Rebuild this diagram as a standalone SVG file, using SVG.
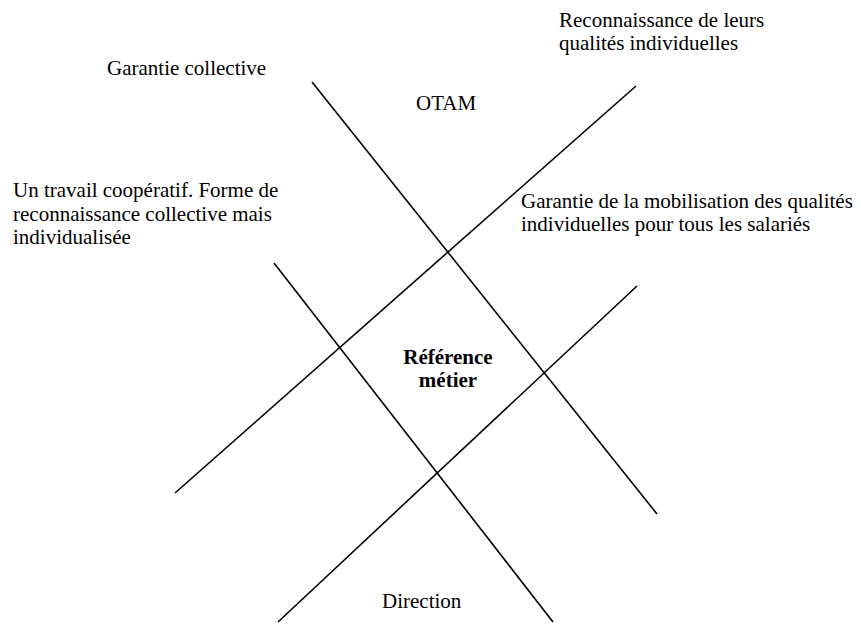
<svg xmlns="http://www.w3.org/2000/svg" width="861" height="624" viewBox="0 0 861 624">
<style>
.t{font-family:"Liberation Serif","Times New Roman",serif;font-size:21px;fill:#000}
.b{font-weight:bold;text-anchor:middle}
.l{stroke:#000;stroke-width:1.6;fill:none}
</style>
<rect width="861" height="624" fill="#fff"/>
<g id="connectors">
<line class="l" x1="312" y1="82" x2="657" y2="514"/>
<line class="l" x1="636" y1="86" x2="175" y2="493"/>
<line class="l" x1="274" y1="263" x2="553" y2="622"/>
<line class="l" x1="637" y1="286" x2="278" y2="622"/>
</g>
<g id="garantie-collective"><text class="t" x="107" y="75">Garantie collective</text></g>
<g id="reconnaissance"><text class="t" x="559" y="27">Reconnaissance de leurs</text><text class="t" x="559" y="50">qualités individuelles</text></g>
<g id="otam"><text class="t" x="416" y="110">OTAM</text></g>
<g id="travail"><text class="t" x="13" y="197">Un travail coopératif. Forme de</text><text class="t" x="13" y="220.5">reconnaissance collective mais</text><text class="t" x="13" y="244">individualisée</text></g>
<g id="garantie-mobilisation"><text class="t" x="521" y="207.5">Garantie de la mobilisation des qualités</text><text class="t" x="521" y="231">individuelles pour tous les salariés</text></g>
<g id="reference-metier"><text class="t b" x="448" y="364">Référence</text><text class="t b" x="448" y="387">métier</text></g>
<g id="direction"><text class="t" x="382" y="608">Direction</text></g>
</svg>
